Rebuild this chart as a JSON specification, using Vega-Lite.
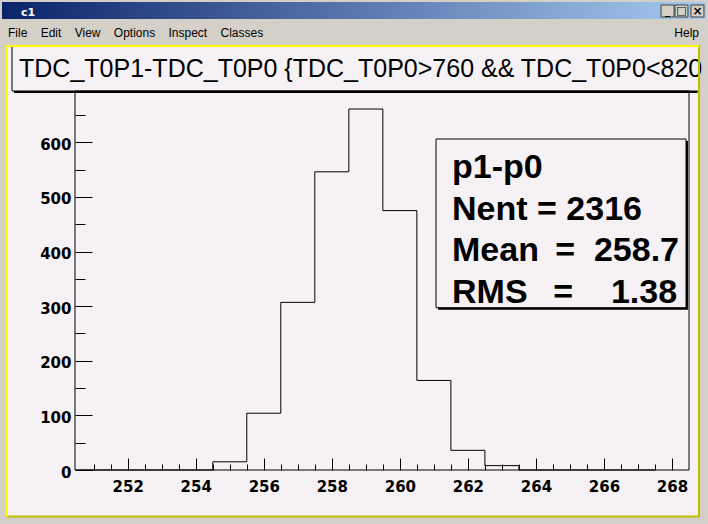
{
  "$schema": "https://vega.github.io/schema/vega-lite/v6.json",
  "width": 614,
  "height": 379,
  "autosize": {"type": "none"},
  "padding": {"left": 75, "top": 91, "right": 19, "bottom": 54},
  "background": "#d4d0c8",
  "config": {
    "view": {"stroke": null},
    "axis": {
      "labelFont": "DejaVu Sans",
      "labelFontWeight": "bold",
      "labelFontSize": 15,
      "labelColor": "black",
      "tickColor": "black",
      "tickWidth": 1,
      "domain": false,
      "grid": false,
      "labelOverlap": false,
      "labelFlush": false
    }
  },
  "datasets": {
    "hist": [
      {"low_edge": 250.5, "entries": 0},
      {"low_edge": 251.5, "entries": 0},
      {"low_edge": 252.5, "entries": 0},
      {"low_edge": 253.5, "entries": 0},
      {"low_edge": 254.5, "entries": 15},
      {"low_edge": 255.5, "entries": 104},
      {"low_edge": 256.5, "entries": 307},
      {"low_edge": 257.5, "entries": 546},
      {"low_edge": 258.5, "entries": 661},
      {"low_edge": 259.5, "entries": 475},
      {"low_edge": 260.5, "entries": 164},
      {"low_edge": 261.5, "entries": 36},
      {"low_edge": 262.5, "entries": 8},
      {"low_edge": 263.5, "entries": 0},
      {"low_edge": 264.5, "entries": 0},
      {"low_edge": 265.5, "entries": 0},
      {"low_edge": 266.5, "entries": 0},
      {"low_edge": 267.5, "entries": 0}
    ]
  },
  "resolve": {"axis": {"x": "independent", "y": "independent"}},
  "layer": [
    {
      "data": {"values": [{}]},
      "mark": {"type": "rect", "fill": {"gradient": "linear", "stops": [{"offset": 0, "color": "#0a246a"}, {"offset": 1, "color": "#a6caf0"}]}},
      "encoding": {
        "x": {"datum": 248.304, "type": "quantitative", "axis": null},
        "x2": {"datum": 269.0},
        "y": {"datum": 856.97, "type": "quantitative", "axis": null},
        "y2": {"datum": 825.84}
      }
    },
    {
      "data": {"values": [{"label": "c1"}]},
      "mark": {"type": "text", "font": "DejaVu Sans", "fontWeight": "bold", "fontSize": 11, "color": "white", "align": "left", "baseline": "alphabetic"},
      "encoding": {
        "x": {"datum": 248.863, "type": "quantitative", "axis": null},
        "y": {"datum": 831.89, "type": "quantitative", "axis": null},
        "text": {"field": "label"}
      }
    },
    {
      "data": {"values": [{}]},
      "mark": {"type": "rect", "fill": "#d4d0c8", "stroke": "#404040", "strokeWidth": 1},
      "encoding": {
        "x": {"datum": 267.677, "type": "quantitative", "axis": null},
        "x2": {"datum": 268.06},
        "y": {"datum": 851.48, "type": "quantitative", "axis": null},
        "y2": {"datum": 829.51}
      }
    },
    {
      "data": {"values": [{}]},
      "mark": {"type": "rect", "fill": "#d4d0c8", "stroke": "#404040", "strokeWidth": 1},
      "encoding": {
        "x": {"datum": 268.089, "type": "quantitative", "axis": null},
        "x2": {"datum": 268.47},
        "y": {"datum": 851.48, "type": "quantitative", "axis": null},
        "y2": {"datum": 829.51}
      }
    },
    {
      "data": {"values": [{}]},
      "mark": {"type": "rect", "fill": "#d4d0c8", "stroke": "#404040", "strokeWidth": 1},
      "encoding": {
        "x": {"datum": 268.559, "type": "quantitative", "axis": null},
        "x2": {"datum": 268.94},
        "y": {"datum": 851.48, "type": "quantitative", "axis": null},
        "y2": {"datum": 829.51}
      }
    },
    {
      "data": {"values": [{"glyph": "_"}]},
      "mark": {"type": "text", "font": "DejaVu Sans", "fontWeight": "bold", "fontSize": 10, "color": "black", "align": "center", "baseline": "middle"},
      "encoding": {
        "x": {"datum": 267.87, "type": "quantitative", "axis": null},
        "y": {"datum": 840.49, "type": "quantitative", "axis": null},
        "text": {"field": "glyph"}
      }
    },
    {
      "data": {"values": [{"glyph": "□"}]},
      "mark": {"type": "text", "font": "DejaVu Sans", "fontWeight": "bold", "fontSize": 11, "color": "black", "align": "center", "baseline": "middle"},
      "encoding": {
        "x": {"datum": 268.28, "type": "quantitative", "axis": null},
        "y": {"datum": 840.49, "type": "quantitative", "axis": null},
        "text": {"field": "glyph"}
      }
    },
    {
      "data": {"values": [{"glyph": "×"}]},
      "mark": {"type": "text", "font": "DejaVu Sans", "fontWeight": "bold", "fontSize": 12, "color": "black", "align": "center", "baseline": "middle"},
      "encoding": {
        "x": {"datum": 268.75, "type": "quantitative", "axis": null},
        "y": {"datum": 840.49, "type": "quantitative", "axis": null},
        "text": {"field": "glyph"}
      }
    },
    {
      "data": {"values": [{"label": "File\u00a0\u00a0\u00a0\u00a0Edit\u00a0\u00a0\u00a0\u00a0View\u00a0\u00a0\u00a0\u00a0Options\u00a0\u00a0\u00a0\u00a0Inspect\u00a0\u00a0\u00a0\u00a0Classes"}]},
      "mark": {"type": "text", "font": "Liberation Sans", "fontSize": 12, "color": "black", "align": "left", "baseline": "alphabetic"},
      "encoding": {
        "x": {"datum": 248.48, "type": "quantitative", "axis": null},
        "y": {"datum": 793.43, "type": "quantitative", "axis": null},
        "text": {"field": "label"}
      }
    },
    {
      "data": {"values": [{"label": "Help"}]},
      "mark": {"type": "text", "font": "Liberation Sans", "fontSize": 12, "color": "black", "align": "right", "baseline": "alphabetic"},
      "encoding": {
        "x": {"datum": 268.794, "type": "quantitative", "axis": null},
        "y": {"datum": 793.43, "type": "quantitative", "axis": null},
        "text": {"field": "label"}
      }
    },
    {
      "data": {"values": [{}]},
      "mark": {"type": "rect", "fill": "#f5f1f5"},
      "encoding": {
        "x": {"datum": 248.451, "type": "quantitative", "axis": null},
        "x2": {"datum": 268.794},
        "y": {"datum": 776.4, "type": "quantitative", "axis": null},
        "y2": {"datum": -85.16}
      }
    },
    {
      "data": {"values": [{}]},
      "mark": {"type": "rect", "fill": "black", "xOffset": 2, "yOffset": 2, "y2Offset": 2},
      "encoding": {
        "x": {"datum": 248.598, "type": "quantitative", "axis": null},
        "x2": {"datum": 268.75},
        "y": {"datum": 776.4, "type": "quantitative", "axis": null},
        "y2": {"datum": 694}
      }
    },
    {
      "data": {"values": [{}]},
      "mark": {"type": "rect", "fill": "#f5f1f5", "stroke": "black", "strokeWidth": 1},
      "encoding": {
        "x": {"datum": 248.598, "type": "quantitative", "axis": null},
        "x2": {"datum": 268.794},
        "y": {"datum": 776.4, "type": "quantitative", "axis": null},
        "y2": {"datum": 694}
      }
    },
    {
      "data": {"values": [{"label": "TDC_T0P1-TDC_T0P0 {TDC_T0P0>760 && TDC_T0P0<820"}]},
      "mark": {"type": "text", "font": "Liberation Sans", "fontSize": 25, "color": "black", "align": "left", "baseline": "alphabetic"},
      "encoding": {
        "x": {"datum": 248.804, "type": "quantitative", "axis": null},
        "y": {"datum": 719.09, "type": "quantitative", "axis": null},
        "text": {"field": "label"}
      }
    },
    {
      "data": {"values": [{}]},
      "mark": {"type": "rect", "fill": null, "stroke": "black", "strokeWidth": 1},
      "encoding": {
        "x": {"datum": 250.45, "type": "quantitative", "axis": null},
        "x2": {"datum": 268.5},
        "y": {"datum": 0, "type": "quantitative", "axis": null},
        "y2": {"datum": 694}
      }
    },
    {
      "data": {"name": "hist"},
      "mark": {"type": "line", "interpolate": "step-after", "color": "black", "strokeWidth": 1},
      "encoding": {
        "x": {
          "field": "low_edge", "type": "quantitative",
          "scale": {"domain": [250.45, 268.5], "nice": false, "zero": false},
          "axis": {"orient": "bottom", "zindex": 1, "title": null, "values": [252, 254, 256, 258, 260, 262, 264, 266, 268], "ticks": false, "labelPadding": 9}
        },
        "y": {
          "field": "entries", "type": "quantitative",
          "scale": {"domain": [0, 694], "nice": false, "zero": false},
          "axis": {"orient": "left", "zindex": 1, "title": null, "values": [0, 100, 200, 300, 400, 500, 600], "ticks": false, "labelPadding": 4, "labelOffset": 2}
        }
      }
    },
    {
      "data": {"name": "hist"},
      "mark": {"type": "point", "opacity": 0},
      "encoding": {
        "x": {
          "field": "low_edge", "type": "quantitative",
          "scale": {"domain": [250.45, 268.5], "nice": false, "zero": false},
          "axis": {"orient": "bottom", "zindex": 1, "title": null, "values": [252, 254, 256, 258, 260, 262, 264, 266, 268], "labels": false, "tickSize": -12}
        },
        "y": {
          "field": "entries", "type": "quantitative",
          "scale": {"domain": [0, 694], "nice": false, "zero": false},
          "axis": {"orient": "left", "zindex": 1, "title": null, "values": [0, 100, 200, 300, 400, 500, 600], "labels": false, "tickSize": -17}
        }
      }
    },
    {
      "data": {"name": "hist"},
      "mark": {"type": "point", "opacity": 0},
      "encoding": {
        "x": {
          "field": "low_edge", "type": "quantitative",
          "scale": {"domain": [250.45, 268.5], "nice": false, "zero": false},
          "axis": {"orient": "bottom", "zindex": 1, "title": null, "values": [251, 251.5, 252.5, 253, 253.5, 254.5, 255, 255.5, 256.5, 257, 257.5, 258.5, 259, 259.5, 260.5, 261, 261.5, 262.5, 263, 263.5, 264.5, 265, 265.5, 266.5, 267, 267.5], "labels": false, "tickSize": -6}
        },
        "y": {
          "field": "entries", "type": "quantitative",
          "scale": {"domain": [0, 694], "nice": false, "zero": false},
          "axis": {"orient": "left", "zindex": 1, "title": null, "values": [50, 150, 250, 350, 450, 550, 650], "labels": false, "tickSize": -10}
        }
      }
    },
    {
      "data": {"values": [{}]},
      "mark": {"type": "rect", "fill": "black", "xOffset": 2, "x2Offset": 2, "yOffset": 2, "y2Offset": 2},
      "encoding": {
        "x": {"datum": 261.063, "type": "quantitative", "axis": null},
        "x2": {"datum": 268.412},
        "y": {"datum": 606.1, "type": "quantitative", "axis": null},
        "y2": {"datum": 297.19}
      }
    },
    {
      "data": {"values": [{}]},
      "mark": {"type": "rect", "fill": "#f5f1f5", "stroke": "black", "strokeWidth": 1},
      "encoding": {
        "x": {"datum": 261.063, "type": "quantitative", "axis": null},
        "x2": {"datum": 268.412},
        "y": {"datum": 606.1, "type": "quantitative", "axis": null},
        "y2": {"datum": 297.19}
      }
    },
    {
      "data": {"values": [{}]},
      "mark": {
        "type": "text", "font": "Liberation Sans", "fontWeight": "bold", "fontSize": 34, "lineHeight": 41.7,
        "color": "black", "align": "left", "baseline": "alphabetic",
        "text": ["p1-p0", "Nent = 2316", "Mean\u00a0\u2009=\u00a0\u00a0258.7", "RMS\u00a0\u00a0\u2009=\u00a0\u00a0\u00a0\u00a01.38"]
      },
      "encoding": {
        "x": {"datum": 261.533, "type": "quantitative", "axis": null},
        "y": {"datum": 534.69, "type": "quantitative", "axis": null}
      }
    },
    {
      "data": {"values": [{}]},
      "mark": {"type": "rect", "fill": null, "stroke": "#c0c000", "strokeWidth": 2},
      "encoding": {
        "x": {"datum": 248.451, "type": "quantitative", "axis": null},
        "x2": {"datum": 268.794},
        "y": {"datum": 776.4, "type": "quantitative", "axis": null},
        "y2": {"datum": -85.16}
      }
    },
    {
      "data": {"values": [{}]},
      "mark": {"type": "rule", "color": "#ffff00", "strokeWidth": 2},
      "encoding": {
        "x": {"datum": 248.421, "type": "quantitative", "axis": null},
        "x2": {"datum": 268.794},
        "y": {"datum": 776.4, "type": "quantitative", "axis": null}
      }
    },
    {
      "data": {"values": [{}]},
      "mark": {"type": "rule", "color": "#ffff00", "strokeWidth": 2},
      "encoding": {
        "x": {"datum": 248.451, "type": "quantitative", "axis": null},
        "y": {"datum": 778.23, "type": "quantitative", "axis": null},
        "y2": {"datum": -85.16}
      }
    }
  ]
}
